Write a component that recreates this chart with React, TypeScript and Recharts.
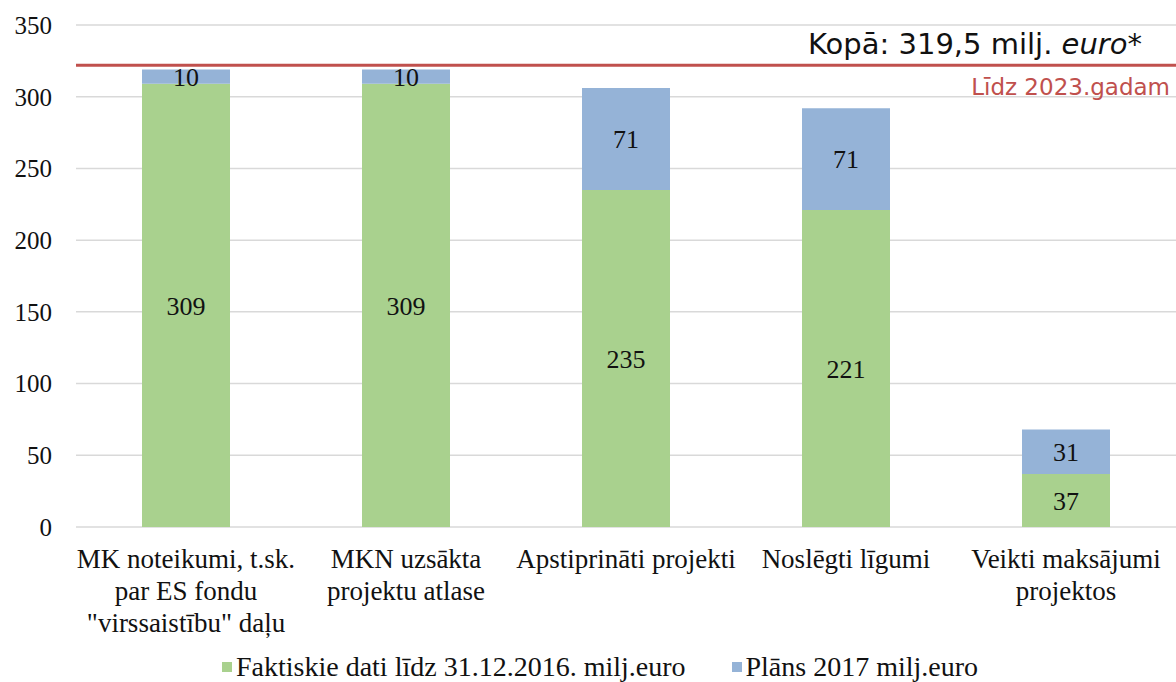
import { BarChart, Bar, XAxis, YAxis, CartesianGrid, Legend, LabelList, ReferenceLine } from "recharts";

const categories = [
  "MK noteikumi, t.sk.\npar ES fondu\n\"virssaistību\" daļu",
  "MKN uzsākta\nprojektu atlase",
  "Apstiprināti projekti",
  "Noslēgti līgumi",
  "Veikti maksājumi\nprojektos",
];
const faktiskie = [309, 309, 235, 221, 37];
const plans = [10, 10, 71, 71, 31];
const yTicks = [0, 50, 100, 150, 200, 250, 300, 350];
const totalLine = 322; // drawn a bit above 319.5 in the original
const totalText = "Kopā: 319,5 milj. ";
const untilText = "Līdz 2023.gadam";

const GREEN = "#a9d18e";
const BLUE = "#95b3d7";
const RED = "#c0504d";
const SERIF = "'Liberation Serif', 'Times New Roman', serif";

const data = categories.map((name, i) => ({ name, fakt: faktiskie[i], plans: plans[i] }));

const CategoryTick = ({ x, y, payload }: any) => {
  const lines = String(payload.value).split("\n");
  return (
    <text x={x} y={y} textAnchor="middle" fontFamily={SERIF} fontSize={27} fill="#111">
      {lines.map((l, i) => (
        <tspan key={i} x={x} dy={i === 0 ? 39 : 32}>{l}</tspan>
      ))}
    </text>
  );
};

const TotalLabel = ({ viewBox }: any) => {
  const right = viewBox.x + viewBox.width;
  return (
    <g>
      <text x={right - 34} y={viewBox.y - 11} textAnchor="end" fontFamily="'DejaVu Sans', sans-serif" fontSize={29} fill="#111">
        {totalText}
        <tspan fontStyle="italic">euro</tspan>*
      </text>
      <text x={right - 6} y={viewBox.y + 30} textAnchor="end" fontFamily="'DejaVu Sans', sans-serif" fontSize={23} fill={RED}>
        {untilText}
      </text>
    </g>
  );
};

const LegendContent = ({ payload }: any) => (
  <div style={{ display: "flex", fontFamily: SERIF, fontSize: 28, color: "#111", height: 30, alignItems: "center" }}>
    {(payload || []).map((p: any, i: number) => (
      <div key={i} style={{ display: "flex", alignItems: "center", marginRight: 46 }}>
        <span style={{ width: 10, height: 10, background: p.color, marginRight: 4, display: "inline-block" }} />
        <span>{p.value}</span>
      </div>
    ))}
  </div>
);

export default function App() {
  return (
    <div style={{ position: "absolute", left: 0, top: 0, background: "#fff" }}>
      <BarChart width={1176} height={682} data={data} margin={{ top: 25, right: 0, bottom: 0, left: 0 }}>
        <CartesianGrid vertical={false} stroke="#d9d9d9" strokeWidth={1.5} />
        <XAxis dataKey="name" axisLine={false} tickLine={false} tickSize={0} height={125} interval={0} tick={<CategoryTick />} />
        <YAxis
          domain={[0, 350]}
          ticks={yTicks}
          axisLine={false}
          tickLine={false}
          tickSize={0}
          tickMargin={24}
          width={76}
          tick={{ fontFamily: SERIF, fontSize: 25, fill: "#111" }}
        />
        <Legend verticalAlign="bottom" content={<LegendContent />} wrapperStyle={{ left: 222, width: "auto" }} />
        <Bar dataKey="fakt" name="Faktiskie dati līdz 31.12.2016. milj.euro" stackId="a" fill={GREEN} barSize={88} isAnimationActive={false}>
          <LabelList dataKey="fakt" position="center" fontFamily={SERIF} fontSize={26} fill="#111" />
        </Bar>
        <Bar dataKey="plans" name="Plāns 2017 milj.euro" stackId="a" fill={BLUE} barSize={88} isAnimationActive={false}>
          <LabelList dataKey="plans" position="center" fontFamily={SERIF} fontSize={26} fill="#111" />
        </Bar>
        <ReferenceLine y={totalLine} stroke={RED} strokeWidth={3} label={<TotalLabel />} />
      </BarChart>
    </div>
  );
}
